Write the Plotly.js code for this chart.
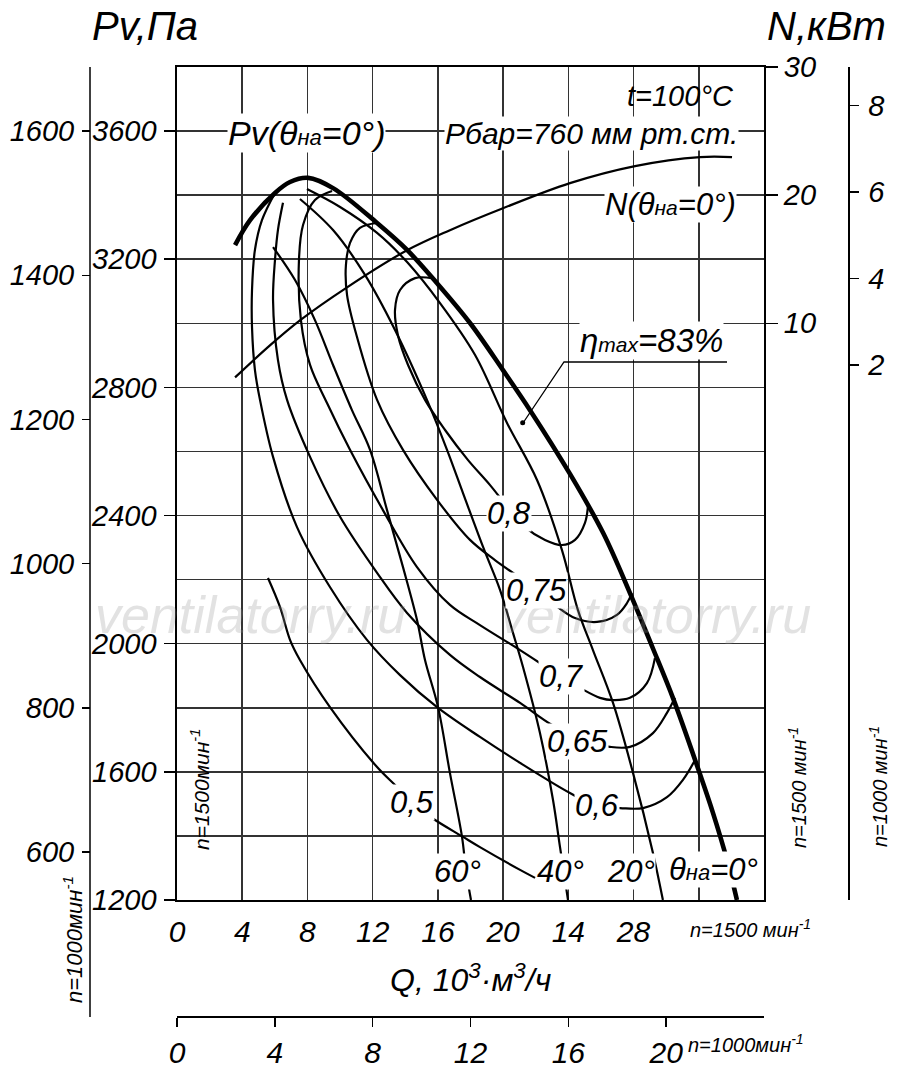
<!DOCTYPE html>
<html><head><meta charset="utf-8">
<script src="https://cdn.plot.ly/plotly-3.0.1.min.js"></script>
<style>html,body{margin:0;padding:0;background:#fff}</style>
</head><body><div id="chart" style="width:900px;height:1071px"></div>
<script>
// ---------------- data (Q in 10^3 m3/h, Pv in Pa, N in kW; n = 1500 1/min) ----------------
const q_vane0  = [3.56,4.48,6.01,6.93,8.04,9.57,12.27,14.11,15.95,17.97,19.99,21.65,24.10,26.13,27.78,29.19,30.42,31.89,32.87,33.73,34.34];
const pv_vane0 = [3244,3322,3407,3441,3454,3422,3313,3229,3125,3001,2854,2729,2530,2346,2158,1985,1830,1620,1472,1325,1200];

const q_vane20  = [7.97,10.0,12.27,14.11,16.13,18.28,20.24,22.08,23.61,24.59,25.51,26.74,27.97,29.19,29.80];
const pv_vane20 = [3419,3363,3282,3191,3063,2901,2689,2511,2292,2105,1980,1815,1596,1347,1200];

const q_vane40  = [7.54,9.57,11.53,13.37,15.33,16.56,17.54,18.77,19.81,20.61,21.22,22.26,23.06,23.49,23.98];
const pv_vane40 = [3388,3291,3151,2979,2761,2605,2470,2302,2168,2033,1927,1721,1512,1365,1200];

const q_vane60  = [5.89,7.24,8.46,9.57,10.73,11.84,12.88,13.86,14.72,15.21,16.01,16.74,17.48,17.72,18.03];
const pv_vane60 = [3238,3135,3010,2870,2729,2605,2417,2239,2074,1949,1802,1596,1397,1294,1200];

const q_eff80  = [15.64,14.60,13.68,13.37,13.55,14.17,15.21,16.44,17.85,19.20,20.42,21.34,22.57,23.61,24.41,25.02,25.21];
const pv_eff80 = [3141,3141,3104,3042,2963,2870,2761,2667,2573,2495,2417,2364,2324,2308,2324,2377,2433];

const q_eff75  = [12.27,11.22,10.61,10.36,10.43,11.04,12.27,13.86,15.95,17.97,19.50,22.08,23.18,24.41,25.76,26.98,27.60,27.90];
const pv_eff75 = [3313,3298,3251,3182,3088,2957,2761,2605,2449,2324,2261,2168,2121,2080,2068,2090,2127,2158];

const q_eff70  = [9.51,8.46,7.73,7.48,7.60,8.16,9.20,10.61,12.63,14.72,16.74,18.58,21.04,23.67,24.71,25.94,26.74,27.78,28.82,29.31];
const pv_eff70 = [3413,3385,3307,3198,3010,2870,2751,2605,2417,2239,2121,2058,1980,1893,1862,1831,1824,1831,1877,1955];

const q_eff65  = [6.50,6.19,6.01,5.89,6.19,6.75,8.16,10.0,12.27,14.11,16.74,18.58,21.04,23.0,24.90,26.55,27.78,29.19,30.05,30.54];
const pv_eff65 = [3376,3291,3198,3073,2886,2761,2583,2396,2221,2096,1965,1896,1815,1746,1699,1678,1678,1721,1784,1831];

const q_eff60  = [6.01,5.21,4.78,4.60,4.60,4.78,5.09,5.89,7.36,9.38,11.65,13.68,15.95,18.58,21.04,24.10,25.76,27.17,28.58,30.05,31.03,31.77];
const pv_eff60 = [3407,3322,3229,3104,2988,2854,2761,2583,2364,2177,2012,1902,1802,1709,1628,1534,1493,1487,1487,1521,1575,1637];

const q_eff50  = [5.58,6.32,6.93,7.54,9.38,12.27,13.49,14.41,15.64,17.54,18.58,21.04,21.96];
const pv_eff50 = [2205,2114,2012,1949,1802,1615,1553,1503,1456,1397,1365,1294,1269];

const q_power = [3.56,5.70,7.54,10.43,14.11,16.74,19.99,24.10,28.09,32.07,34.04];
const n_power = [5.78,8.28,10.23,12.81,15.70,17.27,18.98,20.94,22.27,22.97,22.97];

const eta_max_q = [21.2];
const eta_max_pv = [2690];

// tick labels
const q_ticks = [0,4,8,12,16,20,24,28,32];
const q_ticktext = ["0","4","8","12","16","20","14","28",""];
const q1000_ticks = [0,4,8,12,16,20];
const pv_ticks = [1200,1600,2000,2400,2800,3200,3600];
const pv1000_ticks = [600,800,1000,1200,1400,1600];
const n_ticks = [10,20,30];
const n1000_ticks = [2,4,6,8];

// ---------------- layout helpers ----------------
const W = 900, H = 1071;
const PX = x => x / W, PY = y => 1 - y / H;
const FONT = 'Liberation Sans, Arial, sans-serif';
const ratio = 1000 / 1500;
const pvRange = [1200, 3800];
const qRange = [0, 36];
const nRange = [-35, 30];

const thin = {color: '#000', width: 2.2, shape: 'spline', smoothing: 1};
function line(q, v, extra) {
  return Object.assign({x: q, y: v, mode: 'lines', line: thin, hoverinfo: 'skip', showlegend: false}, extra || {});
}
const traces = [
  line(q_eff60, pv_eff60), line(q_eff65, pv_eff65), line(q_eff70, pv_eff70),
  line(q_eff75, pv_eff75), line(q_eff80, pv_eff80), line(q_eff50, pv_eff50),
  line(q_vane60, pv_vane60), line(q_vane40, pv_vane40), line(q_vane20, pv_vane20),
  line(q_vane0, pv_vane0, {line: {color: '#000', width: 4.6, shape: 'spline', smoothing: 1}}),
  line(q_power, n_power, {yaxis: 'y3'}),
  {x: eta_max_q, y: eta_max_pv, mode: 'markers', marker: {size: 5, color: '#000'}, hoverinfo: 'skip', showlegend: false},
  {x: [], y: [], xaxis: 'x2', yaxis: 'y', mode: 'lines', showlegend: false},
  {x: [], y: [], xaxis: 'x', yaxis: 'y2', mode: 'lines', showlegend: false},
  {x: [], y: [], xaxis: 'x', yaxis: 'y4', mode: 'lines', showlegend: false}
];

function ann(text, x, y, size, opts) {
  const o = opts || {};
  return Object.assign({
    text: text, x: PX(x), y: PY(y), xref: 'paper', yref: 'paper',
    xanchor: 'center', yanchor: 'middle', showarrow: false,
    font: {family: FONT, size: size, color: o.color || '#000', style: 'italic'},
    bgcolor: o.bg ? '#fff' : 'rgba(0,0,0,0)', borderpad: 0
  }, o.extra || {});
}
const sm = s => '<span style="font-size:' + s + 'px">';
const WM = 'rgba(150,150,150,0.28)';
const annotations = [
  ann('ventilatorry.ru', 250, 615, 52, {color: WM}),
  ann('ventilatorry.ru', 655, 615, 52, {color: WM}),
  ann('Pv,Па', 145, 26, 40),
  ann('N,кВт', 826, 26, 40),
  ann('t=100°C', 680, 96, 29),
  ann('Pv(θ' + sm(22) + 'на</span>=0°)', 306, 133, 34, {bg: true}),
  ann('Рбар=760 мм рт.ст.', 591, 133, 30, {bg: true}),
  ann('N(θ' + sm(21) + 'на</span>=0°)', 670, 204, 31, {bg: true}),
  ann('η' + sm(21) + 'max</span>=83%', 651, 340, 33, {bg: true}),
  ann('0,8', 509, 513, 31, {bg: true}),
  ann('0,75', 536, 590, 31, {bg: true}),
  ann('0,7', 561, 676, 31, {bg: true}),
  ann('0,65', 577, 741, 31, {bg: true}),
  ann('0,6', 597, 805, 31, {bg: true}),
  ann('0,5', 412, 802, 31, {bg: true}),
  ann('60°', 458, 871, 31, {bg: true}),
  ann('40°', 560, 871, 31, {bg: true}),
  ann('20°', 631, 871, 31, {bg: true}),
  ann('θ' + sm(22) + 'на</span>=0°', 713, 869, 31, {bg: true}),
  ann('Q, 10<sup>3</sup>·м<sup>3</sup>/ч', 470, 978, 32),
  ann('n=1500 мин<sup>-1</sup>', 750, 928, 20),
  ann('n=1000мин<sup>-1</sup>', 746, 1043, 20),
  ann('n=1000мин<sup>-1</sup>', 73, 940, 22, {extra: {textangle: -90}}),
  ann('n=1500мин<sup>-1</sup>', 200, 790, 21, {extra: {textangle: -90}}),
  ann('n=1500 мин<sup>-1</sup>', 797, 788, 20, {extra: {textangle: -90}}),
  ann('n=1000 мин<sup>-1</sup>', 878, 787, 20, {extra: {textangle: -90}})
];

const shapes = [
  {type: 'line', xref: 'paper', yref: 'paper', x0: PX(90), x1: PX(90), y0: PY(67), y1: PY(1017), line: {color: '#000', width: 1.5}},
  {type: 'path', xref: 'paper', yref: 'paper',
   path: 'M ' + PX(523) + ' ' + PY(423) + ' L ' + PX(564) + ' ' + PY(362) + ' L ' + PX(727) + ' ' + PY(362),
   line: {color: '#000', width: 1.3}}
];

const tickFont = {family: FONT, size: 29, color: '#000', style: 'italic'};
const tickFontB = {family: FONT, size: 30, color: '#000', style: 'italic'};
const gridCol = '#333';

const layout = {
  width: W, height: H,
  margin: {l: 0, r: 0, t: 0, b: 0, autoexpand: false},
  paper_bgcolor: '#fff', plot_bgcolor: '#fff',
  showlegend: false,
  font: {family: FONT, color: '#000', style: 'italic'},
  xaxis: {
    domain: [PX(177), PX(764)], range: qRange, tickvals: q_ticks, ticktext: q_ticktext,
    showgrid: true, gridcolor: gridCol, gridwidth: 1.5, zeroline: false,
    showline: true, mirror: true, linecolor: '#000', linewidth: 1.6,
    ticks: '', tickfont: tickFontB, ticklabelstandoff: 4, fixedrange: true
  },
  xaxis2: {
    overlaying: 'x', anchor: 'free', position: PY(1016), side: 'bottom',
    range: [qRange[0] * ratio, qRange[1] * ratio], tickvals: q1000_ticks,
    showgrid: false, zeroline: false, showline: true, linecolor: '#000', linewidth: 1.5,
    ticks: 'outside', ticklen: 9, tickwidth: 1.5, tickcolor: '#000',
    tickfont: tickFontB, ticklabelstandoff: 0, fixedrange: true
  },
  yaxis: {
    domain: [PY(900), PY(67)], range: pvRange, tickvals: pv_ticks,
    showgrid: true, gridcolor: gridCol, gridwidth: 1.5, zeroline: false,
    minor: {dtick: 200, showgrid: true, gridcolor: gridCol, gridwidth: 1.5, ticks: ''},
    showline: true, mirror: true, linecolor: '#000', linewidth: 1.6,
    ticks: 'outside', ticklen: 11, tickwidth: 1.5, tickcolor: '#000',
    tickfont: tickFont, ticklabelstandoff: 2, fixedrange: true
  },
  yaxis2: {
    overlaying: 'y', anchor: 'free', position: PX(90), side: 'left',
    range: [pvRange[0] * ratio * ratio, pvRange[1] * ratio * ratio], tickvals: pv1000_ticks,
    showgrid: false, zeroline: false, showline: false,
    ticks: 'outside', ticklen: 8, tickwidth: 1.5, tickcolor: '#000',
    tickfont: tickFont, ticklabelstandoff: 2, fixedrange: true
  },
  yaxis3: {
    overlaying: 'y', anchor: 'x', side: 'right',
    range: nRange, tickvals: n_ticks,
    showgrid: false, zeroline: false, showline: false,
    ticks: 'outside', ticklen: 13, tickwidth: 1.5, tickcolor: '#000',
    tickfont: tickFont, ticklabelstandoff: 0, fixedrange: true
  },
  yaxis4: {
    overlaying: 'y', anchor: 'free', position: PX(848), side: 'right',
    range: [nRange[0] * ratio ** 3, nRange[1] * ratio ** 3], tickvals: n1000_ticks,
    showgrid: false, zeroline: false, showline: true, linecolor: '#000', linewidth: 1.5,
    ticks: 'outside', ticklen: 9, tickwidth: 1.5, tickcolor: '#000',
    tickfont: tickFont, ticklabelstandoff: 4, fixedrange: true
  },
  annotations: annotations,
  shapes: shapes
};

Plotly.newPlot('chart', traces, layout, {staticPlot: true, displayModeBar: false});
</script></body></html>
